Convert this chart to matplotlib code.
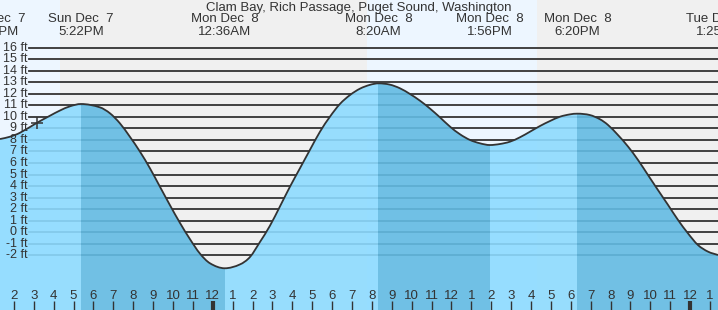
import numpy as np
import matplotlib
matplotlib.use("Agg")
import matplotlib.pyplot as plt
from matplotlib.path import Path
from matplotlib.patches import PathPatch
from matplotlib.transforms import blended_transform_factory

plt.rcParams['font.family'] = ['Liberation Sans', 'DejaVu Sans']

# Hours since Sun Dec 7 00:00 and tide height (ft)
times = [13.30, 13.80, 14.30, 15.17, 15.81, 16.31, 16.82, 17.37, 18.32, 18.83,
         19.33, 19.83, 20.34, 20.84, 21.34, 21.84, 22.35, 22.85, 23.35, 23.86,
         24.60, 25.36, 25.87, 26.37, 26.87, 27.38, 27.88, 28.38, 28.88, 29.39,
         29.89, 30.39, 30.90, 31.40, 31.90, 32.33, 32.90, 33.41, 33.91, 34.42,
         34.92, 35.42, 35.93, 36.43, 36.93, 37.43, 37.93, 38.44, 38.94, 39.44,
         39.95, 40.45, 40.95, 41.46, 41.96, 42.33, 42.96, 43.47, 43.87, 44.37,
         44.88, 45.38, 45.88, 46.38, 46.89, 47.39, 47.89, 48.39, 48.90, 49.40]
heights = [8.08, 8.28, 8.62, 9.50, 10.10, 10.55, 10.92, 11.12, 10.83, 10.31,
           9.44, 8.28, 6.98, 5.54, 3.95, 2.36, 0.80, -0.60, -1.85, -2.70,
           -3.13, -2.80, -2.15, -0.85, 0.55, 2.25, 3.95, 5.54, 7.13, 8.72,
           10.02, 11.12, 11.90, 12.45, 12.78, 12.91, 12.80, 12.48, 11.99, 11.40,
           10.72, 9.96, 9.15, 8.49, 8.00, 7.71, 7.56, 7.65, 7.85, 8.23,
           8.72, 9.21, 9.64, 10.02, 10.22, 10.28, 10.16, 9.79, 9.30, 8.43,
           7.42, 6.26, 4.96, 3.66, 2.36, 1.06, -0.10, -1.11, -1.69, -1.98]

ft_levels = list(range(-2, 17))
hour_ticks = list(range(14, 50))
tide_times = [12.93, 17.37, 24.60, 32.33, 37.93, 42.33, 49.42]
tide_days = ["Sun Dec  7", "Sun Dec  7", "Mon Dec  8", "Mon Dec  8",
             "Mon Dec  8", "Mon Dec  8", "Tue Dec  9"]
tide_clock = ["12:56PM", "5:22PM", "12:36AM", "8:20AM", "1:56PM", "6:20PM", "1:25AM"]
falling = [(17.37, 24.60), (32.33, 37.93), (42.33, 49.40)]
rising = [(13.30, 17.37), (24.60, 32.33), (37.93, 42.33)]
daylight = [(13.30, 16.31), (31.75, 40.30)]
now_time, now_height = 15.17, 9.50
title = "Clam Bay, Rich Passage, Puget Sound, Washington"

W, H = 718, 310
YMIN, YMAX = -6.75, 20.14
fig = plt.figure(figsize=(W / 100, H / 100), dpi=100, facecolor='#f0f0f0')
ax = fig.add_axes([0, 0, 1, 1])
ax.set_xlim(13.30, 49.40)
ax.set_ylim(YMIN, YMAX)
ax.axis('off')

txt = '#333333'
for a, b in daylight:
    ax.axvspan(a, b, color='#edf6ff', lw=0, zorder=0)

for v in ft_levels:
    ax.axhline(v, xmin=29 / W, xmax=1, color='#333333', lw=1.3, zorder=1)

# smooth cubic Hermite path through the read points (slope 0 at tide extremes)
t = np.array(times)
h = np.array(heights)
n = len(t)
m = np.zeros(n)
m[0] = (h[1] - h[0]) / (t[1] - t[0])
m[-1] = (h[-1] - h[-2]) / (t[-1] - t[-2])
for i in range(1, n - 1):
    m[i] = (h[i + 1] - h[i - 1]) / (t[i + 1] - t[i - 1])
for i in range(n):
    if np.any(np.isclose(t[i], tide_times)):
        m[i] = 0.0
verts = [(t[0], h[0])]
codes = [Path.MOVETO]
for i in range(n - 1):
    dt = t[i + 1] - t[i]
    verts += [(t[i] + dt / 3, h[i] + m[i] * dt / 3),
              (t[i + 1] - dt / 3, h[i + 1] - m[i + 1] * dt / 3),
              (t[i + 1], h[i + 1])]
    codes += [Path.CURVE4] * 3
line_path = Path(verts, codes)
fill_path = Path(verts + [(t[-1], YMIN), (t[0], YMIN), (t[0], h[0])],
                 codes + [Path.LINETO, Path.LINETO, Path.CLOSEPOLY])
clip = PathPatch(fill_path, transform=ax.transData, facecolor='none', edgecolor='none')
ax.add_patch(clip)

for a, b in rising:
    sp = ax.axvspan(a, b, color='#8ddbff', alpha=0.9, lw=0, zorder=2)
    sp.set_clip_path(clip)
for a, b in falling:
    sp = ax.axvspan(a, b, color='#63bbe3', alpha=0.9, lw=0, zorder=2)
    sp.set_clip_path(clip)

ax.add_patch(PathPatch(line_path, facecolor='none', edgecolor='#333333', lw=1.3, zorder=4))
ax.plot([now_time], [now_height], marker='+', ms=9, mew=1.1, color='#333333', zorder=5)

ylab = blended_transform_factory(ax.transAxes, ax.transData)
for v in ft_levels:
    ax.text(27.5 / W, v, f"{v} ft", transform=ylab, ha='right', va='center',
            fontsize=9, color=txt, zorder=6)

xlab = blended_transform_factory(ax.transData, ax.transAxes)
for hr in hour_ticks:
    lbl = str(hr % 12 if hr % 12 else 12)
    ax.text(hr, 1 - 296 / H, lbl, transform=xlab, ha='center', va='center',
            fontsize=9.5, color=txt, zorder=6)
    lw = 3 if hr % 24 == 0 else 1
    ax.plot([hr, hr], [0, 1 - 301 / H], transform=xlab, color='#333333', lw=lw,
            zorder=6, solid_capstyle='butt')

ax.text(0.5, 1 - 7.5 / H, title, transform=ax.transAxes, ha='center', va='center',
        fontsize=9.5, color=txt, zorder=6)
for tt, d, c in zip(tide_times, tide_days, tide_clock):
    ax.text(tt, 1 - 19.5 / H, d, transform=xlab, ha='center', va='center',
            fontsize=9.5, color=txt, zorder=6, clip_on=False)
    ax.text(tt, 1 - 32 / H, c, transform=xlab, ha='center', va='center',
            fontsize=9.5, color=txt, zorder=6, clip_on=False)

fig.savefig('out.png', dpi=100, facecolor=fig.get_facecolor())
